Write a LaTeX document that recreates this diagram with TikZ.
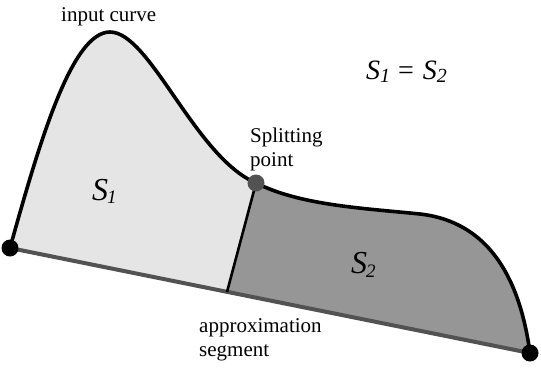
\documentclass[tikz,border=0pt]{standalone}
\usepackage{fontspec}
\setmainfont{Liberation Serif}
\newcommand{\subsc}[2]{\kern-1pt\raisebox{-#2}{#1}}
\begin{document}
\begin{tikzpicture}[x=1pt,y=-1pt,
  lbl/.style={font=\fontsize{21}{24}\selectfont, align=left, inner sep=0pt},
  bigS/.style={font=\fontsize{32}{34}\selectfont\itshape, inner sep=0pt},
  eqS/.style={font=\fontsize{28}{30}\selectfont\itshape, inner sep=0pt},
  enddot/.style={circle, fill=black, inner sep=0pt, minimum size=17pt},
  splitdot/.style={circle, fill=black!68, inner sep=0pt, minimum size=17pt}]
\useasboundingbox (0,0) rectangle (541,368);
\coordinate (A) at (10,248);
\coordinate (B) at (530,353);
\coordinate (T) at (110,32);
\coordinate (P) at (256,183);
\coordinate (M) at (420,214);
\coordinate (Q) at (227,292);
% fills
\fill[black!10] (A) .. controls (40,140) and (72,32) .. (T) .. controls (150,32) and (195,157) .. (P) -- (Q) -- cycle;
\fill[black!41] (P) .. controls (300,205) and (360,208) .. (M) .. controls (490,222) and (520,280) .. (B) -- (Q) -- cycle;
% lines
\draw[line width=4pt, black!68] (A) -- (B);
\draw[line width=2.6pt] (P) -- (Q);
\draw[line width=3.6pt] (A) .. controls (40,140) and (72,32) .. (T) .. controls (150,32) and (195,157) .. (P)
  .. controls (300,205) and (360,208) .. (M) .. controls (490,222) and (520,280) .. (B);
\node[enddot] (a) at (A) {};
\node[enddot] (b) at (B) {};
\node[splitdot] (p) at (P) {};
% labels
\node[lbl, anchor=base] (ic) at (108.7,21.7) {input curve};
\node[lbl, anchor=base west] (sp) at (250,166) {Splitting\\point};
\node[lbl, anchor=base west] (as) at (199,356) {approximation\\segment};
\node[bigS, anchor=base west] (s1) at (92,200) {S\subsc{\fontsize{19}{20}\selectfont 1}{3pt}};
\node[bigS, anchor=base west] (s2) at (351,273) {S\subsc{\fontsize{19}{20}\selectfont 2}{4pt}};
\node[eqS, anchor=base west] (eq) at (366,79) {S\raisebox{-3pt}{\fontsize{20}{21}\selectfont 1}\hspace{8pt}\upshape{=}\hspace{9pt}\itshape S\raisebox{-3pt}{\fontsize{20}{21}\selectfont 2}};
\end{tikzpicture}
\end{document}
